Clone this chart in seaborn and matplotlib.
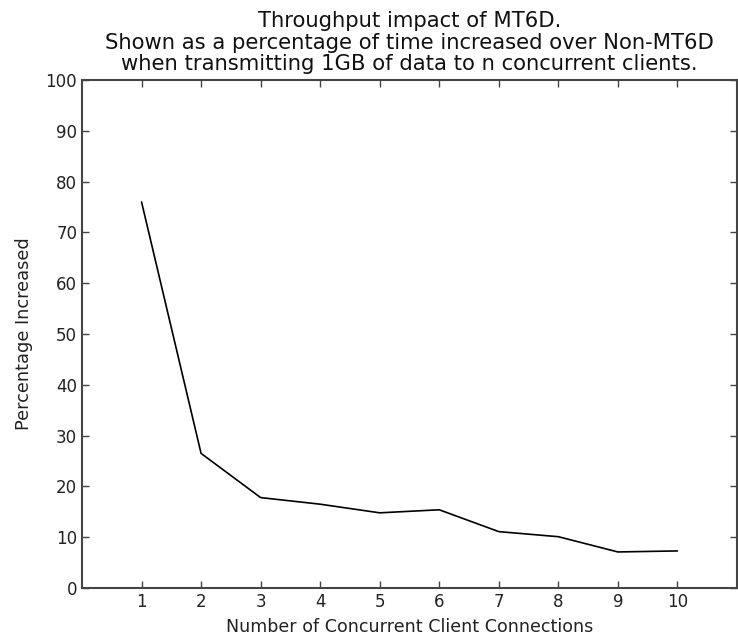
import seaborn as sns
import matplotlib.pyplot as plt
import pandas as pd

# values
clients = [1, 2, 3, 4, 5, 6, 7, 8, 9, 10]
pct_increased = [76.0, 26.5, 17.8, 16.5, 14.8, 15.4, 11.1, 10.1, 7.1, 7.3]

df = pd.DataFrame({'clients': clients, 'pct': pct_increased})

sns.set_style('ticks', {'xtick.direction': 'in', 'ytick.direction': 'in',
                        'axes.edgecolor': '#444444'})
plt.rcParams['font.family'] = ['DejaVu Sans']

fig = plt.figure(figsize=(7.38, 6.37), dpi=100)
ax = fig.add_axes([0.1111, 0.0769, 0.8875, 0.7975])

sns.lineplot(data=df, x='clients', y='pct', color='black', linewidth=1.2, ax=ax)

ax.set_xlim(0, 11)
ax.set_ylim(0, 100)
ax.set_xticks(clients)
ax.set_yticks(range(0, 101, 10))
ax.tick_params(top=True, right=True, length=5, width=1, labelsize=12,
               colors='#444444', labelcolor='#222222')
for s in ax.spines.values():
    s.set_linewidth(1.5)

ax.set_xlabel('Number of Concurrent Client Connections', fontsize=12.6,
              color='#222222', labelpad=5)
ax.set_ylabel('Percentage Increased', fontsize=12.8, color='#222222', labelpad=9)
ax.set_title('Throughput impact of MT6D.\n'
             'Shown as a percentage of time increased over Non-MT6D\n'
             'when transmitting 1GB of data to n concurrent clients.',
             fontsize=15.2, color='#111111', pad=7, linespacing=1.1)

plt.savefig('out.png', dpi=100)
plt.close('all')
